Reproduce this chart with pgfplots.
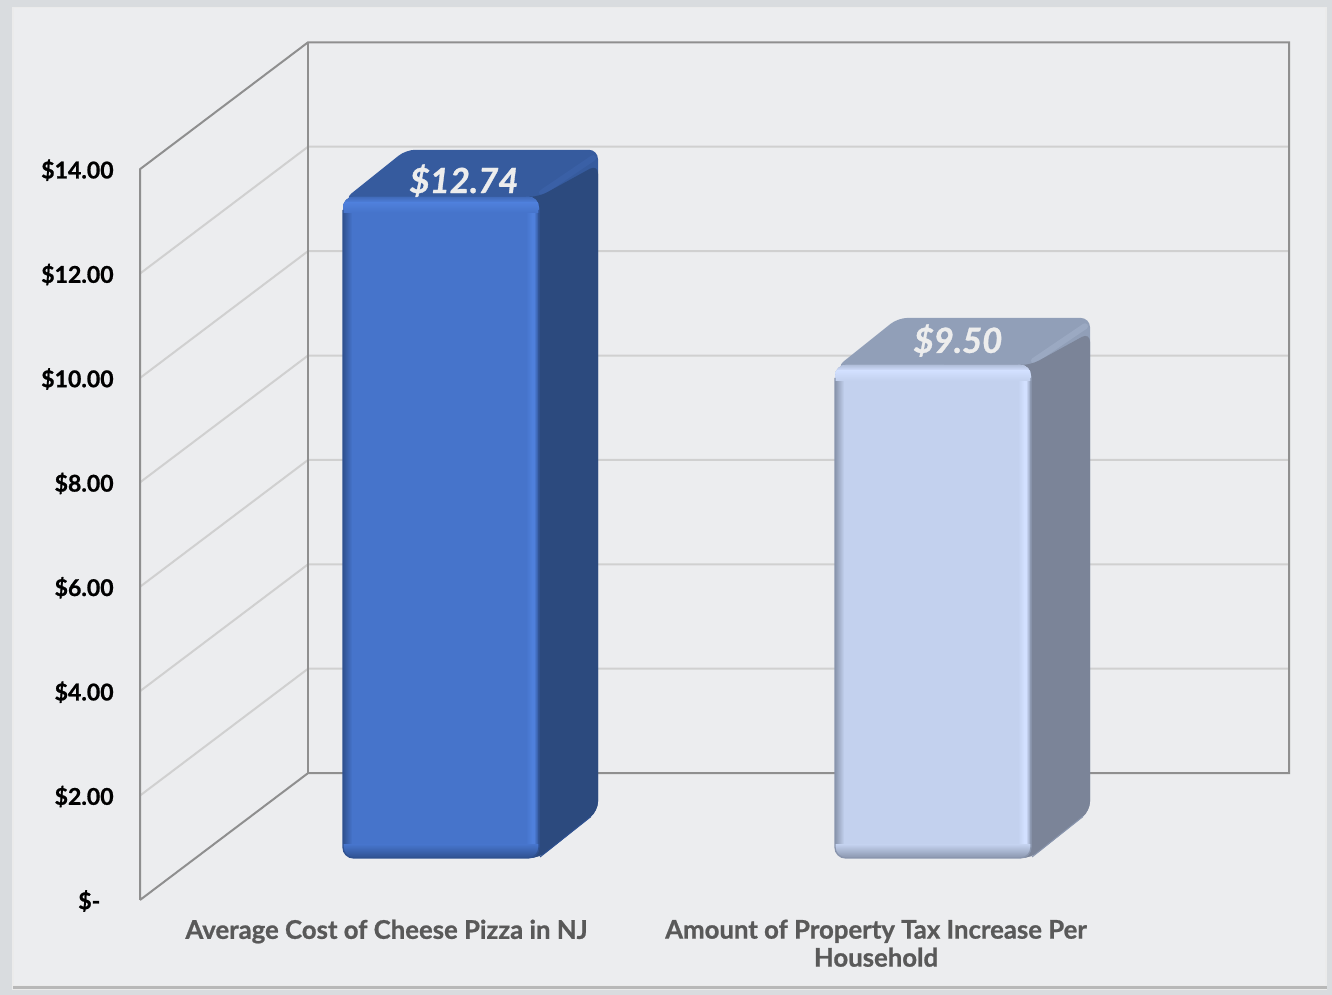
\documentclass[border=0pt]{standalone}
\usepackage{fontspec}
\setmainfont{Lato}[BoldFeatures={FakeBold=0.9},BoldItalicFeatures={FakeBold=0.9}]
\usepackage{pgfplots}
\pgfplotsset{compat=1.18}
\definecolor{outer}{HTML}{D9DCDF}
\definecolor{panel}{HTML}{ECEDEF}
\definecolor{frameg}{HTML}{8F8F8F}
\definecolor{gridg}{HTML}{D0D0D0}
\definecolor{blue1}{HTML}{4674CB}
\definecolor{blue2}{HTML}{2C4A7E}
\definecolor{blue3}{HTML}{365B9E}
\definecolor{blue4}{HTML}{2F5190}
\definecolor{blue5}{HTML}{4F80DC}
\definecolor{blue6}{HTML}{3A60A6}
\definecolor{lite1}{HTML}{C3D1EE}
\definecolor{lite2}{HTML}{7B8498}
\definecolor{lite3}{HTML}{919FB8}
\definecolor{lite4}{HTML}{8995AD}
\definecolor{lite5}{HTML}{D2E0FF}
\definecolor{lite6}{HTML}{9BA9C2}
\pgfplotsset{base/.style={scale only axis,width=999pt,height=746.25pt,xmin=0,xmax=1332,clip=false}}
% #1 x0, #2 value, #3 value+depth, #4 front, #5 side, #6 top, #7 edge dark, #8 highlight, #9 band
\newcommand{\threedbar}[9]{%
  \pgfmathsetmacro{\xa}{#1+196}\pgfmathsetmacro{\xb}{#1+255}\pgfmathsetmacro{\xc}{#1+63}\pgfmathsetmacro{\xd}{#1+1}\pgfmathsetmacro{\xe}{#1+100}\pgfmathsetmacro{\ya}{#2-0.05}\pgfmathsetmacro{\yb}{#2-1}\pgfmathsetmacro{\yc}{#3-0.28}%
  % silhouette in the colour of the top face
  \addplot[fill=#6,draw=none,rounded corners=7pt] coordinates {(\xe,0) (\xa,0) (\xb,0.906) (\xb,#3) (\xc,#3) (\xd,\ya) (\xe,\yb)} -- cycle;
  % band along the outer right edge of the top
  \draw[#9,line width=4.5pt,line cap=round] (axis cs:#1+199,#2+0.08) -- (axis cs:#1+250,#3-0.16);
  % side
  \addplot[fill=#5,draw=none,rounded corners=7pt] coordinates {(\xe,0) (\xa,0) (\xb,0.906) (\xb,\yc) (\xa,#2) (\xe,#2)} -- cycle;
  % front
  \addplot[fill=#4,draw=none,rounded corners=8pt] coordinates {(#1,0) (\xa,0) (\xa,#2) (#1,#2)} -- cycle;
  % bevels
  \begin{scope}
    \clip[rounded corners=8pt] (axis cs:#1,0) rectangle (axis cs:#1+196,#2);
    \shade[left color=#7,right color=#4] (axis cs:#1,0) rectangle (axis cs:#1+9,#2);
    \shade[left color=#4,right color=#8] (axis cs:#1+183,0) rectangle (axis cs:#1+189,#2);
    \fill[#8] (axis cs:#1+189,0) rectangle (axis cs:#1+191,#2);
    \shade[left color=#8,right color=#7] (axis cs:#1+191,0) rectangle (axis cs:#1+196,#2);
    \shade[top color=#8!55!#7,bottom color=#8] (axis cs:#1,#2) rectangle (axis cs:#1+196,#2-0.11);
    \shade[top color=#8,bottom color=#4] (axis cs:#1,#2-0.11) rectangle (axis cs:#1+196,#2-0.3);
    \shade[top color=#4,bottom color=#7] (axis cs:#1,0.26) rectangle (axis cs:#1+196,0);
  \end{scope}
  \draw[#7,line width=1pt,rounded corners=8pt] (axis cs:#1,#2-0.25) -- (axis cs:#1,0) -- (axis cs:#1+196,0) -- (axis cs:#1+196,#2-0.25);
  \draw[#7,line width=0.8pt] (axis cs:#1+197,0.02) -- (axis cs:#1+248,0.8);
}
\begin{document}
\begin{tikzpicture}
\path[use as bounding box] (0,0) rectangle (999pt,746.25pt);
\begin{scope}[x=0.75pt,y=-0.75pt,yshift=746.25pt]
  \fill[outer] (0,0) rectangle (1332,995);
  \fill[white!92!black] (12,7) rectangle (1327,990);
  \fill[panel] (14,8) rectangle (1325,985);
  \fill[black!28] (13,986) rectangle (1327,989);
\end{scope}
\begin{axis}[base,
  ymin=-1.8199,ymax=17.2414,
  axis line style={draw=none},tick style={draw=none},major tick length=0pt,
  xtick={386.5,876},
  xticklabels={{Average Cost of Cheese Pizza in NJ},{Amount of Property Tax Increase Per\\Household}},
  ytick={0,2,...,14},
  yticklabels={\$-\rule{10pt}{0pt},\$2.00,\$4.00,\$6.00,\$8.00,\$10.00,\$12.00,\$14.00},
  yticklabel style={anchor=east,xshift=88.75pt,yshift=-0.75pt,font=\fontsize{17.3}{20}\selectfont\bfseries,text=black},
  xticklabel style={anchor=north,yshift=60pt,align=center,font=\fontsize{19.3}{21}\selectfont\bfseries,text=black!65},
]
\addplot[gridg,line width=1.5pt] coordinates {(140,2) (308,4.43) (1289,4.43)};
\addplot[gridg,line width=1.5pt] coordinates {(140,4) (308,6.43) (1289,6.43)};
\addplot[gridg,line width=1.5pt] coordinates {(140,6) (308,8.43) (1289,8.43)};
\addplot[gridg,line width=1.5pt] coordinates {(140,8) (308,10.43) (1289,10.43)};
\addplot[gridg,line width=1.5pt] coordinates {(140,10) (308,12.43) (1289,12.43)};
\addplot[gridg,line width=1.5pt] coordinates {(140,12) (308,14.43) (1289,14.43)};
\addplot[frameg,line width=1.5pt] coordinates {(140,0) (140,14) (308,16.43) (1289,16.43) (1289,2.43) (308,2.43) (140,0)};
\addplot[frameg,line width=1.5pt] coordinates {(308,2.43) (308,16.43)};
\end{axis}
\begin{axis}[base,hide axis,ymin=-2.6397,ymax=16.5318]
\threedbar{343}{12.74}{13.646}{blue1}{blue2}{blue3}{blue4}{blue5}{blue6}
\threedbar{835}{9.5}{10.406}{lite1}{lite2}{lite3}{lite4}{lite5}{lite6}
\node[text=white!93!black,font=\fontsize{26}{30}\selectfont\bfseries\itshape] at (axis cs:464,13.05) {\$12.74};
\node[text=white!93!black,font=\fontsize{26}{30}\selectfont\bfseries\itshape] at (axis cs:958,9.97) {\$9.50};
\end{axis}
\end{tikzpicture}
\end{document}
